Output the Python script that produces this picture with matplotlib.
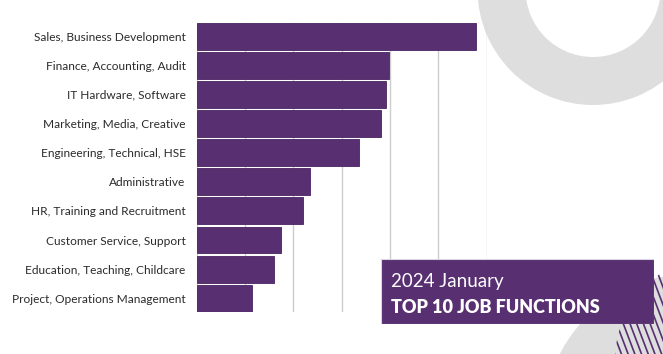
import matplotlib.pyplot as plt
import numpy as np
from matplotlib.patches import Circle, Rectangle, Wedge

# data (bar length, one grid step = 100)
functions = ['Sales, Business Development', 'Finance, Accounting, Audit',
             'IT Hardware, Software', 'Marketing, Media, Creative',
             'Engineering, Technical, HSE', 'Administrative',
             'HR, Training and Recruitment', 'Customer Service, Support',
             'Education, Teaching, Childcare', 'Project, Operations Management']
counts = [578, 399, 392, 381, 335, 235, 221, 175, 161, 114]
title_top = '2024 January'
title_bottom = 'TOP 10 JOB FUNCTIONS'

purple = '#582f71'
W, H = 663, 354

fig = plt.figure(figsize=(W / 100, H / 100), dpi=100)

# background decorations in pixel coords
bg = fig.add_axes([0, 0, 1, 1], zorder=0)
bg.set_xlim(0, W)
bg.set_ylim(H, 0)
bg.axis('off')
# ring top right
bg.add_patch(Wedge((593, -10.5), 115.5, 0, 360, width=48, color='#dedede', lw=0))
# grey disc bottom right with stripes
disc = Circle((690, 420), 146, color='#dedede', lw=0)
bg.add_patch(disc)
clip = Circle((720, 360), 105, transform=bg.transData)
for x0 in np.arange(560, 720, 6.7):
    ln, = bg.plot([x0, x0 + 0.38 * 150], [210, 360], color=purple, lw=1.2)
    ln.set_clip_path(clip)

# bar chart
ax = fig.add_axes([196.7 / W, 1 - 311.7 / H, (486.6 - 196.7) / W, (311.7 - 22.7) / H],
                  zorder=1)
ax.patch.set_alpha(0)
y = np.arange(len(functions))
ax.barh(y, counts, height=0.92, color=purple, edgecolor='#4a2260', lw=0.6, zorder=3)
ax.set_xlim(0, 600)
ax.set_ylim(len(functions) - 1 + 0.46, -0.46)
ax.set_xticks(np.arange(0, 601, 100))
ax.xaxis.grid(True, color='#cccccc', lw=1)
ax.set_axisbelow(True)
ax.set_yticks(y)
ax.set_yticklabels(functions, family='Lato', fontsize=8.6, color='#2b2b2b')
ax.tick_params(axis='y', length=0, pad=8)
ax.tick_params(axis='x', length=0, labelbottom=False)
for s in ax.spines.values():
    s.set_visible(False)

# title box
tb = fig.add_axes([381 / W, 1 - 324 / H, (654 - 381) / W, (324 - 259) / H], zorder=2)
tb.set_xlim(0, 1)
tb.set_ylim(0, 1)
tb.add_patch(Rectangle((0, 0), 1, 1, facecolor=purple, edgecolor='#d9d2e2', lw=0.8,
                       transform=tb.transAxes))
tb.axis('off')
tb.text(0.037, 0.57, title_top, color='white', family='Lato', fontweight='normal',
        fontsize=13.5, va='baseline')
tb.text(0.037, 0.17, title_bottom, color='white', family='Lato', fontweight='heavy',
        fontsize=13, va='baseline')

plt.savefig('out.png', dpi=100)
